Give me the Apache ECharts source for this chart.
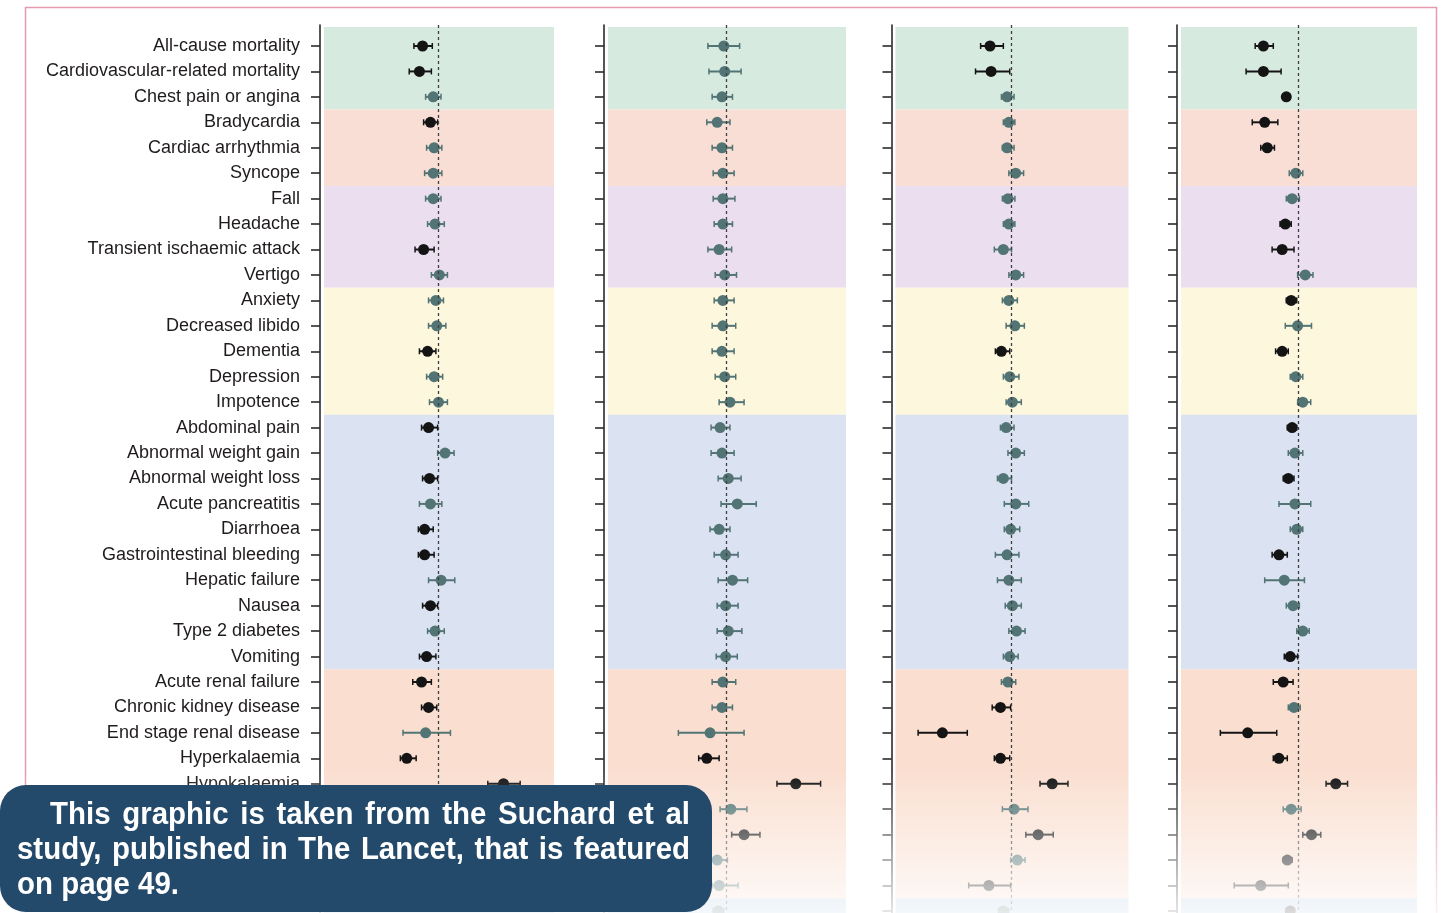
<!DOCTYPE html>
<html>
<head>
<meta charset="utf-8">
<script src="https://cdn.jsdelivr.net/npm/echarts@6/dist/echarts.min.js"></script>
<style>html,body{margin:0;padding:0;background:#fff;overflow:hidden}#c{width:1444px;height:913px}</style>
</head>
<body>
<div id="c"></div>
<script>
// ---- DATA ----
const outcomes = [
  'All-cause mortality','Cardiovascular-related mortality','Chest pain or angina',
  'Bradycardia','Cardiac arrhythmia','Syncope',
  'Fall','Headache','Transient ischaemic attack','Vertigo',
  'Anxiety','Decreased libido','Dementia','Depression','Impotence',
  'Abdominal pain','Abnormal weight gain','Abnormal weight loss','Acute pancreatitis','Diarrhoea',
  'Gastrointestinal bleeding','Hepatic failure','Nausea','Type 2 diabetes','Vomiting',
  'Acute renal failure','Chronic kidney disease','End stage renal disease','Hyperkalaemia','Hypokalaemia'
];
// outcome groups as [first row, last row]
const groupRows = [[0,2],[3,5],[6,9],[10,14],[15,24],[25,33],[34,35]];
// each row: [hazard ratio, lower CI, upper CI, significant (1) or not (0)]; null = hidden
const panel1 = [
  [0.83,0.75,0.93,1],[0.80,0.71,0.92,1],[0.94,0.86,1.03,0],[0.91,0.84,0.99,1],[0.95,0.87,1.04,0],
  [0.94,0.85,1.04,0],[0.94,0.86,1.03,0],[0.96,0.88,1.07,0],[0.84,0.76,0.95,1],[1.01,0.92,1.11,0],
  [0.97,0.89,1.06,0],[0.98,0.89,1.09,0],[0.88,0.80,0.97,1],[0.95,0.87,1.05,0],[1.00,0.90,1.11,0],
  [0.89,0.82,0.99,1],[1.08,0.99,1.20,0],[0.90,0.83,0.99,1],[0.91,0.80,1.04,0],[0.85,0.79,0.94,1],
  [0.85,0.79,0.95,1],[1.03,0.89,1.21,0],[0.91,0.83,0.99,1],[0.96,0.88,1.07,0],[0.87,0.80,0.97,1],
  [0.82,0.74,0.92,1],[0.89,0.82,0.98,1],[0.86,0.66,1.15,0],[0.69,0.64,0.77,1],[2.14,1.78,2.60,1],
  null,null,null,null,null
];
const panel2 = [
  [0.97,0.81,1.16,0],[0.98,0.82,1.18,0],[0.95,0.85,1.07,0],[0.90,0.80,1.04,0],[0.95,0.85,1.07,0],
  [0.96,0.86,1.09,0],[0.96,0.86,1.10,0],[0.96,0.87,1.07,0],[0.92,0.81,1.06,0],[0.98,0.88,1.12,0],
  [0.96,0.87,1.09,0],[0.96,0.85,1.11,0],[0.95,0.85,1.09,0],[0.98,0.88,1.11,0],[1.04,0.92,1.22,0],
  [0.93,0.84,1.04,0],[0.95,0.84,1.09,0],[1.02,0.91,1.18,0],[1.13,0.94,1.40,0],[0.92,0.83,1.04,0],
  [0.99,0.87,1.14,0],[1.07,0.91,1.27,0],[0.99,0.90,1.14,0],[1.02,0.90,1.19,0],[0.99,0.89,1.13,0],
  [0.96,0.85,1.11,0],[0.95,0.85,1.07,0],[0.83,0.58,1.22,0],[0.80,0.73,0.92,1],[2.19,1.77,2.90,1],
  [1.05,0.93,1.26,0],[1.22,1.06,1.46,1],[0.90,0.83,1.01,0],[0.92,0.85,1.14,0],[0.91,0.86,0.97,0]
];
const panel3 = [
  [0.78,0.70,0.91,1],[0.79,0.66,0.98,1],[0.95,0.89,1.03,0],[0.97,0.91,1.04,0],[0.95,0.90,1.03,0],
  [1.05,0.97,1.15,0],[0.96,0.90,1.04,0],[0.97,0.91,1.04,0],[0.91,0.82,1.00,0],[1.05,0.97,1.15,0],
  [0.97,0.90,1.07,0],[1.04,0.94,1.16,0],[0.89,0.83,0.98,1],[0.98,0.91,1.09,0],[1.01,0.94,1.12,0],
  [0.94,0.88,1.03,0],[1.05,0.96,1.16,0],[0.91,0.85,1.00,0],[1.05,0.92,1.22,0],[0.99,0.92,1.10,0],
  [0.95,0.83,1.09,0],[0.97,0.85,1.12,0],[1.01,0.93,1.12,0],[1.06,0.97,1.17,0],[0.98,0.91,1.08,0],
  [0.96,0.89,1.05,0],[0.88,0.80,0.99,1],[0.45,0.34,0.60,1],[0.88,0.82,0.98,1],[1.60,1.39,1.92,1],
  [1.03,0.90,1.21,0],[1.36,1.18,1.62,1],[1.07,0.99,1.17,0],[0.77,0.61,0.99,1],[0.91,0.86,0.97,0]
];
const panel4 = [
  [0.67,0.61,0.75,1],[0.67,0.55,0.82,1],[0.87,0.84,0.91,1],[0.68,0.59,0.79,1],[0.70,0.65,0.76,1],
  [0.97,0.90,1.05,0],[0.93,0.87,1.01,0],[0.86,0.81,0.92,1],[0.83,0.74,0.95,1],[1.08,0.99,1.18,0],
  [0.92,0.87,0.98,1],[0.99,0.86,1.16,0],[0.83,0.77,0.89,1],[0.97,0.91,1.05,0],[1.05,0.99,1.15,0],
  [0.93,0.88,0.98,1],[0.96,0.89,1.05,0],[0.89,0.84,0.95,1],[0.96,0.80,1.15,0],[0.98,0.91,1.05,0],
  [0.80,0.74,0.88,1],[0.85,0.68,1.07,0],[0.94,0.87,1.01,0],[1.05,0.98,1.13,0],[0.91,0.85,0.99,1],
  [0.84,0.75,0.94,1],[0.95,0.89,1.02,0],[0.56,0.41,0.78,1],[0.80,0.75,0.88,1],[1.53,1.37,1.75,1],
  [0.92,0.84,1.03,0],[1.16,1.05,1.29,1],[0.88,0.84,0.93,1],[0.65,0.48,0.89,1],[0.91,0.87,0.95,1]
];
const calloutLines = [
  'This graphic is taken from the Suchard et al',
  'study, published in The Lancet, that is featured',
  'on page 49.'
];

// ---- STYLE / LAYOUT ----
const panels = [panel1, panel2, panel3, panel4];
const gridBoxes = [{left:320,width:237},{left:604,width:245},{left:891.5,width:240},{left:1177,width:243}];
const bandColors = ['#d7eae0','#f9ded6','#ebdfef','#fdf7dd','#dbe3f3','#fadfd1','#b9d0e6'];
const SIG = '#141414', NS = '#527474';
const GRID_TOP = 25, GRID_H = 888, ROW_PX = 25.44;
const Y_MIN = -0.825, Y_MAX = Y_MIN + GRID_H / ROW_PX;
const rowTicks = Array.from({length: 35}, (_, i) => i);
const labelTicks = outcomes.map((_, i) => i);

function xVal(px, w) { return 0.25 * Math.pow(2, 4 * px / w); }

const grids = [], xAxes = [], yAxes = [], series = [];
panels.forEach((pd, i) => {
  const g = gridBoxes[i];
  grids.push({left: g.left, width: g.width, top: GRID_TOP, height: GRID_H, containLabel: false});
  xAxes.push({type: 'log', logBase: 2, min: 0.25, max: 4, gridIndex: i, show: false});
  yAxes.push({
    type: 'value', gridIndex: i, inverse: true, min: Y_MIN, max: Y_MAX,
    axisLine: {show: true, lineStyle: {color: '#2a2a2a', width: 1.6}},
    axisTick: {show: true, customValues: rowTicks, length: 9, lineStyle: {color: '#2a2a2a', width: 1.6}},
    axisLabel: {
      show: i === 0, customValues: labelTicks, margin: 20,
      formatter: v => outcomes[Math.round(v)] || '',
      fontFamily: '"Liberation Sans", Arial, sans-serif', fontSize: 18, color: '#1f1b1c'
    },
    splitLine: {show: false}
  });
  const xl = xVal(4, g.width), xr = xVal(g.width - 3, g.width);
  series.push({
    type: 'line', xAxisIndex: i, yAxisIndex: i, data: [], z: 1, silent: true,
    markArea: {
      silent: true,
      data: groupRows.map((gr, k) => [
        {xAxis: xl, yAxis: k === 0 ? -0.75 : gr[0] - 0.5, itemStyle: {color: bandColors[k], opacity: 1}},
        {xAxis: xr, yAxis: Math.min(gr[1] + 0.5, Y_MAX)}
      ])
    },
    markLine: {
      silent: true, symbol: 'none', label: {show: false},
      lineStyle: {type: [3, 3], color: '#3f3f3f', width: 1.3},
      data: [{xAxis: 1}]
    }
  });
  const items = [];
  pd.forEach((r, row) => { if (r) items.push([r[0], row, r[1], r[2], r[3]]); });
  series.push({
    type: 'custom', xAxisIndex: i, yAxisIndex: i, z: 3, clip: false, silent: true,
    encode: {x: [0, 2, 3], y: 1},
    data: items,
    renderItem: (params, api) => {
      const row = api.value(1);
      const p = api.coord([api.value(0), row]);
      const l = api.coord([api.value(2), row]);
      const h = api.coord([api.value(3), row]);
      const c = api.value(4) ? SIG : NS;
      const y = p[1];
      return {type: 'group', children: [
        {type: 'line', shape: {x1: l[0], y1: y, x2: h[0], y2: y}, style: {stroke: c, lineWidth: 2}},
        {type: 'line', shape: {x1: l[0], y1: y - 3, x2: l[0], y2: y + 3}, style: {stroke: c, lineWidth: 1.5}},
        {type: 'line', shape: {x1: h[0], y1: y - 3, x2: h[0], y2: y + 3}, style: {stroke: c, lineWidth: 1.5}},
        {type: 'circle', shape: {cx: p[0], cy: y, r: 5.5}, style: {fill: c}}
      ]};
    }
  });
});

// callout text, justified word by word
const FONT_PX = 32, SX = 0.92;
const fontFamily = '"Liberation Sans", Arial, sans-serif';
const mctx = document.createElement('canvas').getContext('2d');
mctx.font = 'bold ' + FONT_PX + 'px ' + fontFamily;
const lineStart = [50, 17, 17], lineEnd = 690, lineY = [815.5, 850.5, 885.5], justify = [true, true, false];
const textEls = [];
calloutLines.forEach((ln, li) => {
  const words = ln.split(' ');
  const widths = words.map(w => mctx.measureText(w).width * SX);
  const total = widths.reduce((a, b) => a + b, 0);
  const gap = justify[li] ? (lineEnd - lineStart[li] - total) / (words.length - 1) : mctx.measureText(' ').width * SX;
  let x = lineStart[li];
  words.forEach((w, k) => {
    textEls.push({
      type: 'text', x: x, y: lineY[li], scaleX: SX, z: 120, silent: true,
      style: {text: w, x: 0, y: 0, fill: '#ffffff', font: 'bold ' + FONT_PX + 'px ' + fontFamily, verticalAlign: 'middle', align: 'left'}
    });
    x += widths[k] + gap;
  });
});

const option = {
  backgroundColor: '#ffffff',
  animation: false,
  grid: grids, xAxis: xAxes, yAxis: yAxes, series: series,
  graphic: [
    {type: 'rect', z: 90, silent: true, shape: {x: 25.5, y: 7.5, width: 1411, height: 1000},
     style: {fill: null, stroke: '#e59aad', lineWidth: 1.5}},
    {type: 'rect', z: 100, silent: true, shape: {x: 0, y: 770, width: 1444, height: 143},
     style: {fill: new echarts.graphic.LinearGradient(0, 0, 0, 1, [
       {offset: 0, color: 'rgba(255,255,255,0)'}, {offset: 1, color: 'rgba(255,255,255,0.85)'}])}},
    {type: 'rect', z: 110, silent: true, shape: {x: 0, y: 785, width: 712, height: 127, r: 26},
     style: {fill: '#244a6b'}}
  ].concat(textEls)
};
const chart = echarts.init(document.getElementById('c'), null, {renderer: 'canvas'});
chart.setOption(option);
</script>
</body>
</html>
